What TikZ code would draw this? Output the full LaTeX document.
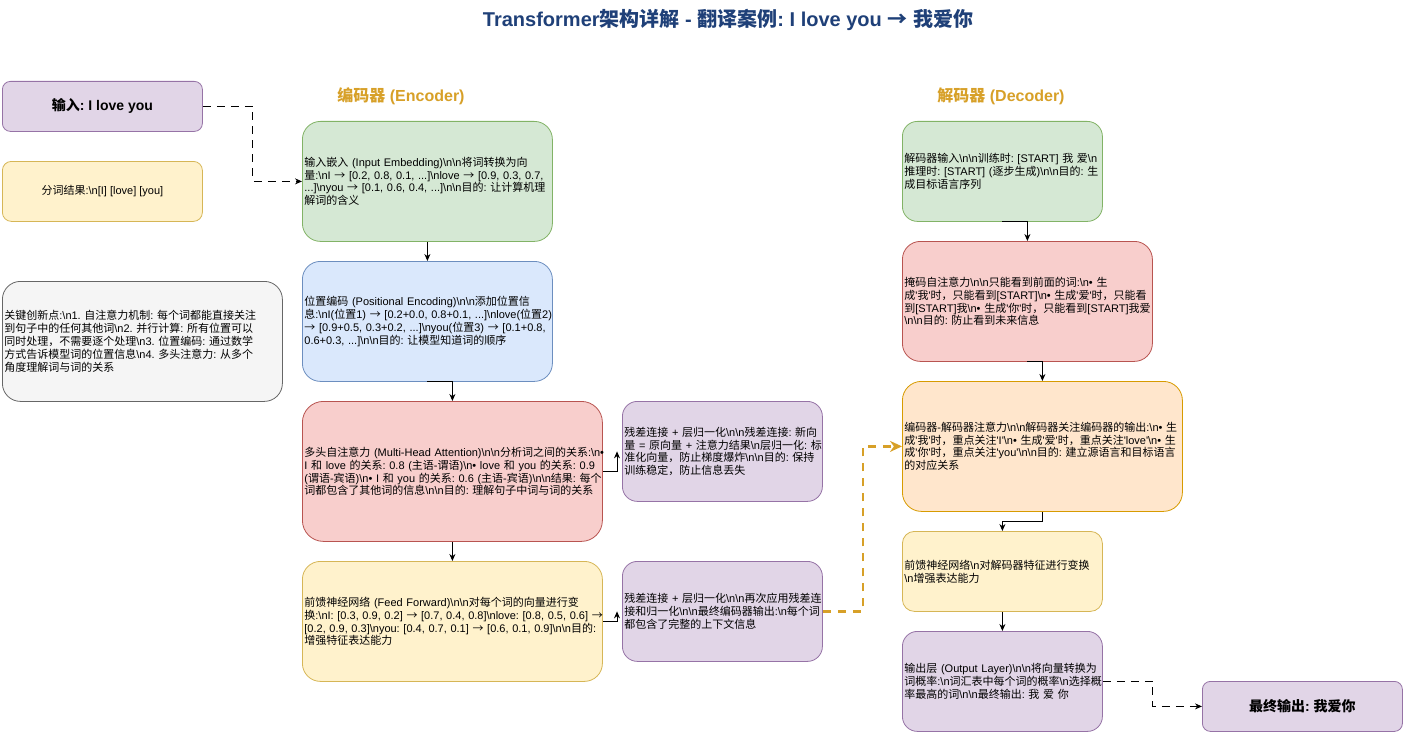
\documentclass[tikz,border=0pt]{standalone}
\usepackage{fontspec}
\newfontfamily\latinfont{Liberation Sans}
\newfontfamily\cjk{Noto Sans CJK SC}
\usetikzlibrary{arrows.meta}

\newXeTeXintercharclass\cjkclass
\count255="2E80
\loop
  \XeTeXcharclass\count255=\cjkclass
  \advance\count255 by 1
\ifnum\count255<"A000 \repeat
\count255="FF00
\loop
  \XeTeXcharclass\count255=\cjkclass
  \advance\count255 by 1
\ifnum\count255<"FFF0 \repeat
\XeTeXcharclass"2192=\cjkclass
\XeTeXinterchartoks 0 \cjkclass={\begingroup\cjk}
\XeTeXinterchartoks 4095 \cjkclass={\begingroup\cjk}
\XeTeXinterchartoks \cjkclass 0={\endgroup}
\XeTeXinterchartoks \cjkclass 4095={\endgroup}
\XeTeXinterchartokenstate=1
\frenchspacing

\definecolor{titleblue}{RGB}{31,64,120}
\definecolor{labelgold}{RGB}{215,160,40}
\definecolor{greenfill}{HTML}{D5E8D4}\definecolor{greenline}{HTML}{82B366}
\definecolor{bluefill}{HTML}{DAE8FC}\definecolor{blueline}{HTML}{6C8EBF}
\definecolor{redfill}{HTML}{F8CECC}\definecolor{redline}{HTML}{B85450}
\definecolor{yellowfill}{HTML}{FFF2CC}\definecolor{yellowline}{HTML}{D6B656}
\definecolor{orangefill}{HTML}{FFE6CC}\definecolor{orangeline}{HTML}{D79B00}
\definecolor{purplefill}{HTML}{E1D5E7}\definecolor{purpleline}{HTML}{9673A6}
\definecolor{grayfill}{HTML}{F5F5F5}\definecolor{grayline}{HTML}{666666}

\newcommand\bsn{\textbackslash n}

\begin{document}
\begin{tikzpicture}[x=1pt,y=-1pt,
  every node/.style={font={\latinfont\frenchspacing\fontsize{11}{12.8}\selectfont}, inner sep=2pt},
  stage/.style={draw, anchor=north west, align=left, line width=0.8pt,
    execute at begin node={\rightskip=-30pt plus 1fil\relax}},
  greenbox/.style={stage, fill=greenfill, draw=greenline},
  bluebox/.style={stage, fill=bluefill, draw=blueline},
  redbox/.style={stage, fill=redfill, draw=redline},
  yellowbox/.style={stage, fill=yellowfill, draw=yellowline},
  orangebox/.style={stage, fill=orangefill, draw=orangeline},
  purplebox/.style={stage, fill=purplefill, draw=purpleline},
  graybox/.style={stage, fill=grayfill, draw=grayline},
  heading/.style={font={\latinfont\bfseries\fontsize{16}{19}\selectfont}, text=labelgold},
  flow/.style={-{Stealth[length=7pt,width=6pt]}, line width=0.8pt},
  dashflow/.style={flow, dash pattern=on 8pt off 6pt},
  handoff/.style={-{Stealth[length=12pt,width=11pt]}, draw=labelgold, line width=2.4pt, dash pattern=on 8pt off 7pt}]
\useasboundingbox (0,0) rectangle (1404,733);

\node[font={\latinfont\bfseries\fontsize{20}{24}\selectfont}, text=titleblue] (title) at (728,20) {Transformer架构详解 - 翻译案例: I love you → 我爱你};

\node[heading] (enclabel) at (401,96) {编码器 (Encoder)};
\node[heading] (declabel) at (1001,96) {解码器 (Decoder)};

\node[purplebox, align=center, rounded corners=8pt, minimum width=200pt, minimum height=50pt,
  font={\latinfont\bfseries\fontsize{14}{17}\selectfont}] (input) at (2,81) {输入: I love you};
\node[yellowbox, align=center, rounded corners=9pt, minimum width=200pt, minimum height=60pt] (tokens) at (2,161) {分词结果:\bsn{}[I] [love] [you]};
\node[graybox, rounded corners=18pt, minimum width=280pt, minimum height=120pt, text width=276pt] (keypoints) at (2,281)
  {关键创新点:\bsn{}1. 自注意力机制: 每个词都能直接关注\\到句子中的任何其他词\bsn{}2. 并行计算: 所有位置可以\\同时处理，不需要逐个处理\bsn{}3. 位置编码: 通过数学\\方式告诉模型词的位置信息\bsn{}4. 多头注意力: 从多个\\角度理解词与词的关系};

\node[greenbox, rounded corners=18pt, minimum width=250pt, minimum height=120pt, text width=246pt] (embed) at (302,121)
  {输入嵌入 (Input Embedding)\bsn\bsn{}将词转换为向\\量:\bsn{}I → [0.2, 0.8, 0.1, ...]\bsn{}love → [0.9, 0.3, 0.7,\\...]\bsn{}you → [0.1, 0.6, 0.4, ...]\bsn\bsn{}目的: 让计算机理\\解词的含义};
\node[bluebox, rounded corners=18pt, minimum width=250pt, minimum height=120pt, text width=246pt] (posenc) at (302,261)
  {位置编码 (Positional Encoding)\bsn\bsn{}添加位置信\\息:\bsn{}I(位置1) → [0.2+0.0, 0.8+0.1, ...]\bsn{}love(位置2)\\→ [0.9+0.5, 0.3+0.2, ...]\bsn{}you(位置3) → [0.1+0.8,\\0.6+0.3, ...]\bsn\bsn{}目的: 让模型知道词的顺序};
\node[redbox, rounded corners=21pt, minimum width=300pt, minimum height=140pt, text width=296pt] (attn) at (302,401)
  {多头自注意力 (Multi-Head Attention)\bsn\bsn{}分析词之间的关系:\bsn{}•\\I 和 love 的关系: 0.8 (主语-谓语)\bsn{}• love 和 you 的关系: 0.9\\(谓语-宾语)\bsn{}• I 和 you 的关系: 0.6 (主语-宾语)\bsn\bsn{}结果: 每个\\词都包含了其他词的信息\bsn\bsn{}目的: 理解句子中词与词的关系};
\node[yellowbox, rounded corners=18pt, minimum width=300pt, minimum height=120pt, text width=296pt] (ffn) at (302,561)
  {前馈神经网络 (Feed Forward)\bsn\bsn{}对每个词的向量进行变\\换:\bsn{}I: [0.3, 0.9, 0.2] → [0.7, 0.4, 0.8]\bsn{}love: [0.8, 0.5, 0.6] →\\{}[0.2, 0.9, 0.3]\bsn{}you: [0.4, 0.7, 0.1] → [0.6, 0.1, 0.9]\bsn\bsn{}目的:\\增强特征表达能力};

\node[purplebox, rounded corners=15pt, minimum width=200pt, minimum height=100pt, text width=196pt] (res1) at (622,401)
  {残差连接 + 层归一化\bsn\bsn{}残差连接: 新向\\量 = 原向量 + 注意力结果\bsn{}层归一化: 标\\准化向量，防止梯度爆炸\bsn\bsn{}目的: 保持\\训练稳定，防止信息丢失};
\node[purplebox, rounded corners=15pt, minimum width=200pt, minimum height=100pt, text width=196pt] (res2) at (622,561)
  {残差连接 + 层归一化\bsn\bsn{}再次应用残差连\\接和归一化\bsn\bsn{}最终编码器输出:\bsn{}每个词\\都包含了完整的上下文信息};

\node[greenbox, rounded corners=15pt, minimum width=200pt, minimum height=100pt, text width=196pt] (decin) at (902,121)
  {解码器输入\bsn\bsn{}训练时: [START] 我 爱\bsn{}\\推理时: [START] (逐步生成)\bsn\bsn{}目的: 生\\成目标语言序列};
\node[redbox, rounded corners=18pt, minimum width=250pt, minimum height=120pt, text width=246pt] (masked) at (902,241)
  {掩码自注意力\bsn\bsn{}只能看到前面的词:\bsn{}• 生\\成'我'时，只能看到[START]\bsn{}• 生成'爱'时，只能看\\到[START]我\bsn{}• 生成'你'时，只能看到[START]我爱\\\bsn\bsn{}目的: 防止看到未来信息};
\node[orangebox, rounded corners=19pt, minimum width=280pt, minimum height=130pt, text width=276pt] (cross) at (902,381)
  {编码器-解码器注意力\bsn\bsn{}解码器关注编码器的输出:\bsn{}• 生\\成'我'时，重点关注'I'\bsn{}• 生成'爱'时，重点关注'love'\bsn{}• 生\\成'你'时，重点关注'you'\bsn\bsn{}目的: 建立源语言和目标语言\\的对应关系};
\node[yellowbox, rounded corners=12pt, minimum width=200pt, minimum height=80pt, text width=196pt] (decffn) at (902,531)
  {前馈神经网络\bsn{}对解码器特征进行变换\\\bsn{}增强表达能力};
\node[purplebox, rounded corners=15pt, minimum width=200pt, minimum height=100pt, text width=196pt] (outlayer) at (902,631)
  {输出层 (Output Layer)\bsn\bsn{}将向量转换为\\词概率:\bsn{}词汇表中每个词的概率\bsn{}选择概\\率最高的词\bsn\bsn{}最终输出: 我 爱 你};
\node[purplebox, align=center, rounded corners=8pt, minimum width=200pt, minimum height=50pt,
  font={\latinfont\bfseries\fontsize{14}{17}\selectfont}] (final) at (1202,681) {最终输出: 我爱你};

\draw[dashflow] (input.east) -- ++(50,0) |- (embed.west);
\draw[flow] (embed.south) -- (posenc.north);
\draw[flow] (posenc.south) -| (attn.north);
\draw[flow] (attn.south) -- (ffn.north);
\draw[flow] (attn.east) -| ([xshift=-5pt]res1.west);
\draw[flow] (ffn.east) -| ([xshift=-5pt]res2.west);
\draw[handoff] (res2.east) -- ++(40,0) |- (cross.west);

\draw[flow] (decin.south) -| (masked.north);
\draw[flow] (masked.south) -| (cross.north);
\draw[flow] (cross.south) -- ++(0,10) -| (decffn.north);
\draw[flow] (decffn.south) -- (outlayer.north);
\draw[dashflow] (outlayer.east) -- ++(50,0) |- (final.west);
\end{tikzpicture}
\end{document}
